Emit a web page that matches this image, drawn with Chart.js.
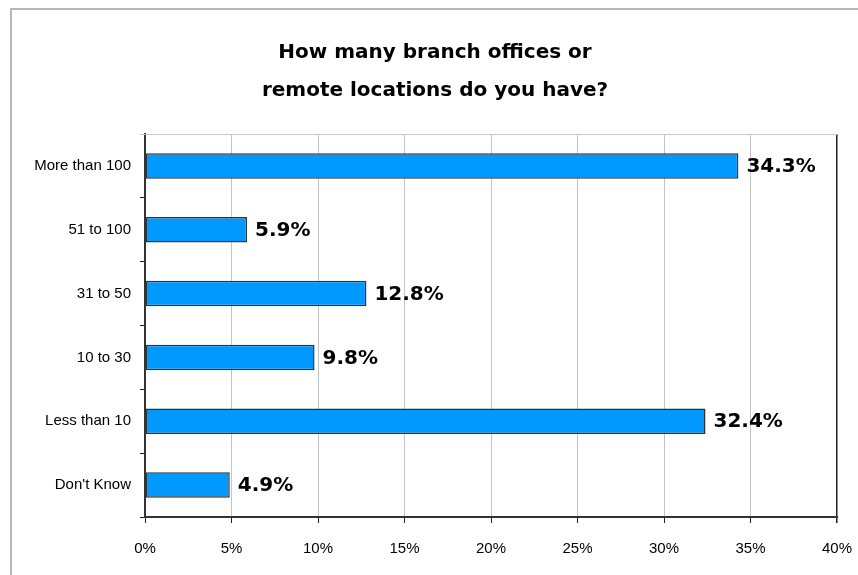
<!DOCTYPE html>
<html>
<head>
<meta charset="utf-8">
<script src="https://cdn.jsdelivr.net/npm/chart.js@4.4.0/dist/chart.umd.min.js"></script>
<style>
  html, body { margin: 0; padding: 0; background: #fff; }
  #wrap { position: relative; width: 858px; height: 575px; }
  #frame { position: absolute; left: 10px; top: 8px; width: 900px; height: 600px;
           border-left: 2px solid #b8b8b8; border-top: 2px solid #b8b8b8; }
  canvas { position: absolute; left: 0; top: 0; }
</style>
</head>
<body>
<div id="wrap">
  <div id="frame"></div>
  <canvas id="branchChart" width="858" height="575"></canvas>
</div>
<script>
const categories = ["More than 100", "51 to 100", "31 to 50", "10 to 30", "Less than 10", "Don't Know"];
const shares = [34.3, 5.9, 12.8, 9.8, 32.4, 4.9];
const xTicks = [0, 5, 10, 15, 20, 25, 30, 35, 40];
const titleLines = ["How many branch offices or", "remote locations do you have?"];

// bold value labels at the end of each bar
const valueLabels = {
  id: "valueLabels",
  afterDatasetsDraw(chart) {
    const ctx = chart.ctx;
    const meta = chart.getDatasetMeta(0);
    ctx.save();
    ctx.font = "bold 20px 'DejaVu Sans'";
    ctx.fillStyle = "#000";
    ctx.textAlign = "left";
    ctx.textBaseline = "middle";
    meta.data.forEach((bar, i) => {
      ctx.fillText(shares[i].toFixed(1) + "%", bar.x + 8, bar.y + 1);
    });
    ctx.restore();
  }
};

// top border of plot area (light)
const plotFrame = {
  id: "plotFrame",
  beforeDatasetsDraw(chart) {
    const { ctx, chartArea } = chart;
    ctx.save();
    ctx.strokeStyle = "#c8c8c8";
    ctx.lineWidth = 1;
    ctx.beginPath();
    ctx.moveTo(chartArea.left - 5, chartArea.top + 0.5);
    ctx.lineTo(chartArea.right, chartArea.top + 0.5);
    ctx.stroke();
    ctx.restore();
  }
};

new Chart(document.getElementById("branchChart"), {
  type: "bar",
  data: {
    labels: categories,
    datasets: [{
      data: shares,
      backgroundColor: "#0099ff",
      borderColor: "#333333",
      borderWidth: 1.5,
      borderSkipped: false,
      categoryPercentage: 1,
      barPercentage: 0.4
    }]
  },
  options: {
    indexAxis: "y",
    responsive: false,
    animation: false,
    layout: { padding: { top: 10, right: 21, bottom: 1, left: 33 } },
    plugins: {
      legend: { display: false },
      tooltip: { enabled: false },
      title: {
        display: true,
        text: titleLines,
        color: "#000",
        font: { family: "'DejaVu Sans'", size: 20, weight: "bold", lineHeight: 1.9 },
        padding: { top: 24, bottom: 24 }
      }
    },
    scales: {
      x: {
        min: 0,
        max: 40,
        afterBuildTicks: (scale) => { scale.ticks = xTicks.map(v => ({ value: v })); },
        afterFit: (scale) => { scale.paddingLeft = 0; scale.paddingRight = 0; },
        ticks: {
          callback: (v) => v + "%",
          color: "#000",
          font: { family: "'Liberation Sans'", size: 15, lineHeight: 1 },
          padding: 18,
          maxRotation: 0
        },
        grid: {
          color: (c) => c.tick && c.tick.value === 40 ? "#222" : "#c4c4c4",
          lineWidth: (c) => c.tick && c.tick.value === 40 ? 1.5 : 1,
          tickColor: "#222",
          tickLength: 6
        },
        border: { color: "#333", width: 2 }
      },
      y: {
        afterFit: (scale) => { scale.width = 112; },
        ticks: {
          color: "#000",
          font: { family: "'Liberation Sans'", size: 15 },
          padding: 9
        },
        grid: {
          offset: true,
          drawOnChartArea: false,
          tickColor: "#222",
          tickLength: 5
        },
        border: { color: "#333", width: 2 }
      }
    }
  },
  plugins: [plotFrame, valueLabels]
});
</script>
</body>
</html>
